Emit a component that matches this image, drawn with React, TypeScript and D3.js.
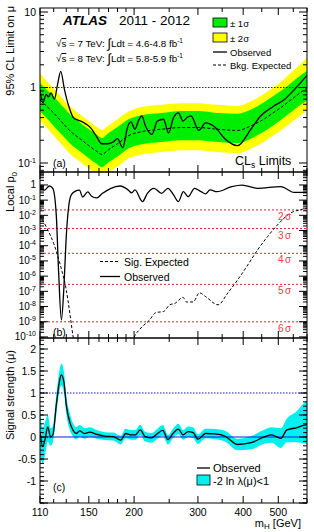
import React from "react";
import * as d3 from "d3";

// (a) observed 95% CL limit on mu
const limitMass = [110, 112, 114.5, 116, 118, 120.5, 123, 125.5, 128.5, 132, 136, 140, 144, 147, 152, 157, 163, 169, 175, 180, 186, 192, 196, 201, 206, 210, 215, 224, 232, 241, 249, 257, 265, 273, 280, 287, 302, 315, 334, 356, 386, 420, 447, 484, 521, 554, 600];
const limitObserved = [0.94, 0.63, 0.81, 0.75, 0.85, 0.7, 1.1, 1.64, 0.94, 0.57, 0.4, 0.37, 0.35, 0.33, 0.29, 0.23, 0.18, 0.18, 0.19, 0.21, 0.16, 0.3, 0.35, 0.28, 0.37, 0.42, 0.31, 0.24, 0.36, 0.38, 0.25, 0.4, 0.46, 0.36, 0.4, 0.42, 0.27, 0.34, 0.3, 0.21, 0.17, 0.28, 0.42, 0.56, 0.7, 0.94, 1.45];

// (a) background-only expected limit and its bands
const expMass = [110, 115, 120, 125, 130, 135, 140, 150, 157, 163, 170, 180, 193, 210, 238, 270, 300, 340, 386, 420, 447, 480, 508, 545, 576, 600];
const limitExpected = [0.68, 0.56, 0.46, 0.37, 0.3, 0.25, 0.22, 0.17, 0.145, 0.13, 0.15, 0.18, 0.23, 0.26, 0.28, 0.295, 0.295, 0.28, 0.27, 0.31, 0.36, 0.45, 0.54, 0.7, 0.86, 0.98];
const limitMinus2 = [0.36, 0.29, 0.23, 0.185, 0.15, 0.125, 0.11, 0.085, 0.072, 0.065, 0.075, 0.09, 0.115, 0.13, 0.14, 0.148, 0.148, 0.14, 0.135, 0.155, 0.18, 0.225, 0.27, 0.35, 0.43, 0.49];
const limitMinus1 = [0.48, 0.39, 0.31, 0.25, 0.205, 0.17, 0.15, 0.116, 0.099, 0.088, 0.102, 0.122, 0.156, 0.177, 0.19, 0.2, 0.2, 0.19, 0.184, 0.21, 0.245, 0.305, 0.37, 0.48, 0.59, 0.67];
const limitPlus1 = [1.15, 0.93, 0.76, 0.61, 0.5, 0.41, 0.36, 0.28, 0.24, 0.215, 0.25, 0.3, 0.38, 0.43, 0.46, 0.49, 0.49, 0.46, 0.45, 0.51, 0.6, 0.75, 0.9, 1.17, 1.45, 1.65];
const limitPlus2 = [1.55, 1.2, 0.97, 0.78, 0.63, 0.53, 0.46, 0.36, 0.305, 0.275, 0.315, 0.38, 0.48, 0.55, 0.59, 0.62, 0.62, 0.59, 0.57, 0.66, 0.77, 0.97, 1.18, 1.6, 2.05, 2.5];

// (b) local p0, observed
const p0Mass = [110, 113, 116.8, 119.4, 122, 123.8, 126, 128, 129.9, 131.8, 134, 137.4, 141.3, 144.3, 149, 152.4, 157.6, 163.3, 172, 183, 192.6, 197, 201, 211, 217.6, 227, 238, 248, 257, 265, 273.5, 282, 293.6, 306, 315, 324, 339, 372, 397, 438, 508, 553, 600];
const p0Observed = [0.74, 0.45, 0.85, 0.58, 1e-2, 2e-6, 1.3e-9, 1.6e-7, 3.2e-4, 2.8e-2, 0.21, 0.38, 0.45, 0.16, 0.35, 0.19, 0.14, 0.27, 0.58, 0.85, 0.47, 0.3, 0.47, 0.08, 0.28, 0.6, 0.28, 0.6, 0.22, 0.08, 0.36, 0.17, 0.6, 0.36, 0.26, 0.47, 0.36, 0.78, 0.98, 0.6, 0.78, 0.32, 0.32];

// (b) local p0 expected for a SM signal, low- and high-mass pieces
const p0ExpMassLow = [110, 115, 120, 125, 130, 136, 138];
const p0ExpectedLow = [1e-2, 1.4e-3, 1.4e-4, 6e-6, 1.2e-7, 8e-11, 1e-11];
const p0ExpMassHigh = [198, 200, 206.7, 220.6, 229.6, 241, 251, 259, 273, 279, 291, 303, 315, 341, 363, 386, 412, 438, 467, 497, 540, 583, 600];
const p0ExpectedHigh = [1e-11, 9e-11, 2.9e-10, 1.3e-9, 4e-9, 4.7e-9, 1.3e-8, 1.6e-8, 4e-8, 2e-8, 2e-8, 8e-8, 4.5e-8, 1.3e-8, 8e-8, 5.6e-7, 5.5e-6, 5.2e-5, 4e-4, 2.3e-3, 1.4e-2, 2.5e-2, 3e-2];

// red reference lines
const sigmaLevels = [2, 3, 4, 5, 6];
const sigmaP0 = [2.275e-2, 1.35e-3, 3.17e-5, 2.87e-7, 9.87e-10];

// (c) best-fit signal strength and -2 ln lambda < 1 interval
const muMass = [110, 112, 113.7, 115.6, 117.6, 119.4, 122, 124.7, 126, 128.2, 130, 132.8, 135.6, 138.5, 141.5, 146, 150.8, 157.6, 165.9, 175, 183.8, 189.6, 195.5, 201.7, 208, 214.5, 223.5, 230, 240, 248, 256, 265, 273, 282, 291, 300, 315, 334, 356, 386, 421, 459, 479, 508, 528, 561, 590, 600];
const muObserved = [0.12, -0.22, -0.03, 0.23, 0.0, 0.05, 0.73, 1.3, 1.41, 1.22, 0.73, 0.35, 0.16, 0.08, 0.14, 0.08, 0.11, 0.06, 0.02, 0.01, -0.07, 0.08, 0.05, 0.05, 0.16, 0.01, -0.02, 0.05, 0.15, -0.06, 0.08, 0.18, 0.05, 0.12, 0.1, -0.05, 0.08, 0.07, 0.02, -0.17, -0.13, 0.01, 0.05, -0.03, 0.16, 0.21, 0.27, 0.28];
const muLow = [-0.45, -0.6, -0.4, -0.1, -0.2, -0.12, 0.5, 1.07, 1.17, 0.98, 0.52, 0.17, 0.01, -0.05, 0.01, -0.04, 0.0, -0.04, -0.07, -0.08, -0.17, -0.03, -0.06, -0.06, 0.04, -0.1, -0.13, -0.06, 0.03, -0.17, -0.03, 0.06, -0.06, 0.0, -0.02, -0.16, -0.03, -0.05, -0.1, -0.3, -0.28, -0.15, -0.13, -0.25, -0.12, -0.12, -0.15, -0.16];
const muHigh = [0.62, 0.2, 0.35, 0.5, 0.2, 0.25, 0.95, 1.55, 1.67, 1.46, 0.95, 0.55, 0.32, 0.22, 0.27, 0.2, 0.22, 0.16, 0.11, 0.1, 0.03, 0.19, 0.16, 0.16, 0.28, 0.12, 0.09, 0.16, 0.27, 0.05, 0.19, 0.3, 0.16, 0.24, 0.22, 0.06, 0.19, 0.18, 0.14, -0.04, 0.02, 0.17, 0.22, 0.2, 0.42, 0.58, 0.78, 0.82];

const xTickLabels = [110, 150, 200, 300, 400, 500];
const muTickLabels = ["2", "1.5", "1", "0.5", "0", "-0.5", "-1"];

const FONT = "'Liberation Sans', Arial, Helvetica, sans-serif";
const BLUE = "#1515f0";
const L = 40;
const R = 307;
const TOP_A = 8;
const AB = 172;
const BC = 338;
const BOT = 503;

const x = d3.scaleLog().domain([110, 600]).range([L, R]);
const yA = d3.scaleLog().domain([0.076, 11.3]).range([AB, TOP_A]);
const yB = d3.scaleLog().domain([8.5e-11, 7.1]).range([BC, AB]);
const yC = d3.scaleLinear().domain([-1.5, 2.25]).range([BOT, BC]);

type Pt = [number, number];
const pairs = (xs: number[], ys: number[]): Pt[] => xs.map((m, i) => [m, ys[i]]);

const linePath = (y: (v: number) => number, xs: number[], ys: number[]) =>
  d3.line<Pt>().x(d => x(d[0])).y(d => y(d[1])).curve(d3.curveMonotoneX)(pairs(xs, ys)) || "";

const bandPath = (y: (v: number) => number, xs: number[], lo: number[], hi: number[]) =>
  d3
    .area<number>()
    .x(m => x(m))
    .y0((_, i) => y(lo[i]))
    .y1((_, i) => y(hi[i]))
    .curve(d3.curveMonotoneX)(xs) || "";

const xTicks = [...d3.range(110, 201, 10), ...d3.range(250, 601, 50)];

function logTicks(lo: number, hi: number) {
  const major: number[] = [];
  const minor: number[] = [];
  for (let e = Math.floor(Math.log10(lo)); e <= Math.ceil(Math.log10(hi)); e++) {
    const base = Math.pow(10, e);
    if (base >= lo && base <= hi) major.push(base);
    for (let k = 2; k <= 9; k++) {
      const v = k * base;
      if (v >= lo && v <= hi) minor.push(v);
    }
  }
  return { major, minor };
}

function Frame({ top, bottom, y, major, minor }: { top: number; bottom: number; y: (v: number) => number; major: number[]; minor: number[] }) {
  return (
    <g stroke="#000" strokeWidth={1} fill="none">
      <rect x={L} y={top} width={R - L} height={bottom - top} />
      {xTicks.map(t => {
        const len = xTickLabels.includes(t) ? 7 : 4;
        return (
          <g key={"x" + t}>
            <line x1={x(t)} x2={x(t)} y1={bottom} y2={bottom - len} />
            <line x1={x(t)} x2={x(t)} y1={top} y2={top + len} />
          </g>
        );
      })}
      {major.map(t => (
        <g key={"M" + t}>
          <line x1={L} x2={L + 8} y1={y(t)} y2={y(t)} />
          <line x1={R} x2={R - 8} y1={y(t)} y2={y(t)} />
        </g>
      ))}
      {minor.map(t => (
        <g key={"m" + t}>
          <line x1={L} x2={L + 4} y1={y(t)} y2={y(t)} />
          <line x1={R} x2={R - 4} y1={y(t)} y2={y(t)} />
        </g>
      ))}
    </g>
  );
}

function PowLabel({ y, exp }: { y: number; exp: number }) {
  if (exp === 0) return <text x={36} y={y + 3.5} textAnchor="end">1</text>;
  if (exp === 1) return <text x={36} y={y + 3.5} textAnchor="end">10</text>;
  return (
    <text x={36} y={y + 3.5} textAnchor="end">
      10<tspan dy={-4} fontSize={7}>{exp}</tspan>
    </text>
  );
}

export default function App() {
  const ticksA = logTicks(0.076, 11.3);
  const ticksB = logTicks(8.5e-11, 7.1);
  const muMajor = d3.range(-1.5, 2.26, 0.5);
  const muMinor = d3.range(-15, 23).map(v => v / 10);

  return (
    <svg width={314} height={532} style={{ position: "absolute", left: 0, top: 0, background: "#fff" }} fontFamily={FONT}>
      <defs>
        <clipPath id="clipA"><rect x={L} y={TOP_A} width={R - L} height={AB - TOP_A} /></clipPath>
        <clipPath id="clipB"><rect x={L} y={AB} width={R - L} height={BC - AB} /></clipPath>
        <clipPath id="clipC"><rect x={L} y={BC} width={R - L} height={BOT - BC} /></clipPath>
      </defs>

      {/* (a) CLs limit */}
      <g clipPath="url(#clipA)">
        <path d={bandPath(yA, expMass, limitMinus2, limitPlus2)} fill="#ffff00" />
        <path d={bandPath(yA, expMass, limitMinus1, limitPlus1)} fill="#00ee00" />
        <line x1={L} x2={R} y1={yA(1)} y2={yA(1)} stroke={BLUE} strokeWidth={1} strokeDasharray="1.5,1.5" />
        <path d={linePath(yA, expMass, limitExpected)} fill="none" stroke="#000" strokeWidth={1} strokeDasharray="3,2" />
        <path d={linePath(yA, limitMass, limitObserved)} fill="none" stroke="#000" strokeWidth={1.3} />
      </g>
      <Frame top={TOP_A} bottom={AB} y={yA} major={ticksA.major} minor={ticksA.minor} />
      <g fontSize={10.5}>
        {ticksA.major.map(t => <PowLabel key={t} y={yA(t)} exp={Math.round(Math.log10(t))} />)}
      </g>
      <text x={63} y={25} fontSize={13.5} fontWeight="bold" fontStyle="italic">ATLAS</text>
      <text x={119} y={25} fontSize={13.5}>2011 - 2012</text>
      <text x={56} y={47} fontSize={9.8}>
        √<tspan textDecoration="overline">s</tspan> = 7 TeV: <tspan fontSize={13} dy={1}>∫</tspan><tspan dy={-1}>Ldt = 4.6-4.8 fb</tspan><tspan dy={-4} fontSize={6.5}>-1</tspan>
      </text>
      <text x={56} y={62} fontSize={9.8}>
        √<tspan textDecoration="overline">s</tspan> = 8 TeV: <tspan fontSize={13} dy={1}>∫</tspan><tspan dy={-1}>Ldt = 5.8-5.9 fb</tspan><tspan dy={-4} fontSize={6.5}>-1</tspan>
      </text>
      <g fontSize={9.5}>
        <rect x={213} y={18} width={14} height={9} fill="#00ee00" stroke="#000" strokeWidth={0.8} />
        <text x={230} y={26.5}>± 1σ</text>
        <rect x={213} y={33} width={14} height={9} fill="#ffff00" stroke="#000" strokeWidth={0.8} />
        <text x={230} y={41.5}>± 2σ</text>
        <line x1={213} x2={227} y1={52} y2={52} stroke="#000" strokeWidth={1.3} />
        <text x={230} y={55.5}>Observed</text>
        <line x1={213} x2={227} y1={65} y2={65} stroke="#000" strokeDasharray="3,2" />
        <text x={230} y={68.5}>Bkg. Expected</text>
      </g>
      <text x={53} y={167} fontSize={10.5}>(a)</text>
      <text x={235} y={165} fontSize={12.5}>
        CL<tspan dy={3} fontSize={8.5}>s</tspan><tspan dy={-3}> Limits</tspan>
      </text>
      <text transform="translate(14,6) rotate(-90)" textAnchor="end" fontSize={11}>95% CL Limit on μ</text>

      {/* (b) local p0 */}
      <g clipPath="url(#clipB)">
        {sigmaP0.map((p, i) => (
          <line key={i} x1={L} x2={R} y1={yB(p)} y2={yB(p)} stroke="#e8202a" strokeWidth={1} strokeDasharray="2,2" />
        ))}
        <path d={linePath(yB, p0ExpMassLow, p0ExpectedLow)} fill="none" stroke="#000" strokeDasharray="3,2" />
        <path d={linePath(yB, p0ExpMassHigh, p0ExpectedHigh)} fill="none" stroke="#000" strokeDasharray="3,2" />
        <path d={linePath(yB, p0Mass, p0Observed)} fill="none" stroke="#000" strokeWidth={1.3} />
      </g>
      <Frame top={AB} bottom={BC} y={yB} major={ticksB.major} minor={ticksB.minor} />
      <g fontSize={10}>
        {ticksB.major.map(t => <PowLabel key={t} y={yB(t)} exp={Math.round(Math.log10(t))} />)}
      </g>
      <g fontSize={10} fill="#e8404a">
        {sigmaLevels.map((s, i) => (
          <text key={s} x={278} y={yB(sigmaP0[i]) + 10}>{s}<tspan dx={1.5}>σ</tspan></text>
        ))}
      </g>
      <g fontSize={10.5}>
        <line x1={100} x2={120} y1={261.5} y2={261.5} stroke="#000" strokeDasharray="3,2" />
        <text x={124} y={265.5}>Sig. Expected</text>
        <line x1={100} x2={120} y1={276.5} y2={276.5} stroke="#000" strokeWidth={1.3} />
        <text x={124} y={280.5}>Observed</text>
      </g>
      <text x={53} y={336} fontSize={10.5}>(b)</text>
      <text transform="translate(14,172) rotate(-90)" textAnchor="end" fontSize={11}>
        Local p<tspan dy={2.5} fontSize={8}>0</tspan>
      </text>

      {/* (c) signal strength */}
      <g clipPath="url(#clipC)">
        <path d={bandPath(yC, muMass, muLow, muHigh)} fill="#00f0f0" />
        <line x1={L} x2={R} y1={yC(1)} y2={yC(1)} stroke={BLUE} strokeDasharray="1.5,1.5" />
        <line x1={L} x2={R} y1={yC(0)} y2={yC(0)} stroke={BLUE} strokeWidth={1.2} />
        <path d={linePath(yC, muMass, muObserved)} fill="none" stroke="#000" strokeWidth={1.3} />
      </g>
      <Frame top={BC} bottom={BOT} y={yC} major={muMajor} minor={muMinor} />
      <g fontSize={10.5} textAnchor="end">
        {muTickLabels.map(s => (
          <text key={s} x={36} y={yC(+s) + 3.5}>{s}</text>
        ))}
      </g>
      <g fontSize={11}>
        <line x1={197} x2={210} y1={468} y2={468} stroke="#000" strokeWidth={1.3} />
        <text x={213} y={472}>Observed</text>
        <rect x={197} y={475} width={13} height={10} fill="#00f0f0" stroke="#000" strokeWidth={0.8} />
        <text x={213} y={484.5}>-2 ln λ(μ)&lt;1</text>
      </g>
      <text x={53} y={491} fontSize={10.5}>(c)</text>
      <text transform="translate(14,350) rotate(-90)" textAnchor="end" fontSize={11}>Signal strength (μ)</text>

      {/* shared mass axis */}
      <g fontSize={10.5} textAnchor="middle">
        {xTickLabels.map(t => (
          <text key={t} x={x(t)} y={516}>{t}</text>
        ))}
      </g>
      <text x={301} y={527} fontSize={11} textAnchor="end">
        m<tspan dy={2} fontSize={8}>H</tspan><tspan dy={-2}> [GeV]</tspan>
      </text>
    </svg>
  );
}
